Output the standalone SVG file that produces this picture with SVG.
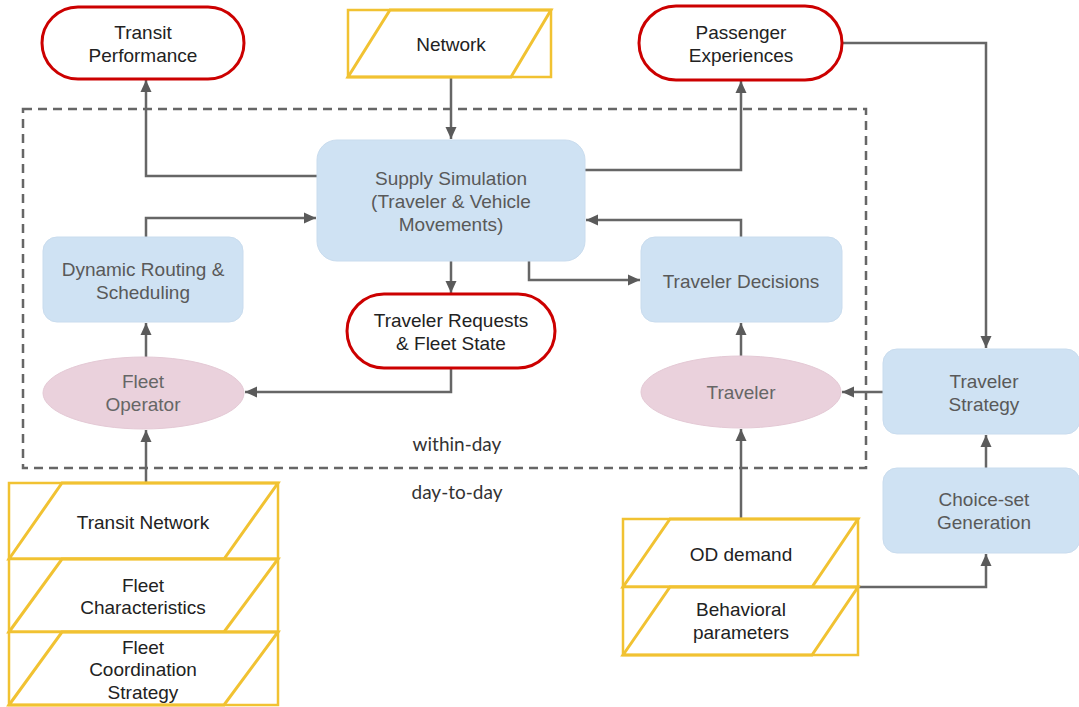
<svg xmlns="http://www.w3.org/2000/svg" width="1079" height="707" viewBox="0 0 1079 707">
<style>
.t{font-family:"Liberation Sans",Arial,sans-serif;text-anchor:middle;dominant-baseline:central}
.blue{fill:#cfe2f3;stroke:#c9dcee;stroke-width:1}
.bt{fill:#595959;font-size:19px}
.red{fill:#fff;stroke:#cc0000;stroke-width:3}
.rt{fill:#222;font-size:19px}
.pink{fill:#ead1dc;stroke:#e4c9d5;stroke-width:1}
.pt{fill:#666;font-size:19px}
.yo{fill:#fff;stroke:#f1c232;stroke-width:2.5}
.yi{fill:none;stroke:#f1c232;stroke-width:3}
.st{fill:#222;font-size:19px}
.c{fill:none;stroke:#666;stroke-width:2.5}
.lbl{font-family:Lato,"Liberation Sans",sans-serif;font-size:19px;fill:#333;text-anchor:middle;dominant-baseline:central}
</style>
<defs>
<marker id="ah" markerUnits="userSpaceOnUse" markerWidth="14" markerHeight="14" viewBox="0 0 14 14" refX="12" refY="7" orient="auto">
<path d="M0,1.5 L12,7 L0,12.5 Z" fill="#5a5a5a"/>
</marker>
</defs>
<rect width="1079" height="707" fill="#fff"/>

<rect id="day-boundary" x="23" y="109" width="843" height="359" fill="none" stroke="#666" stroke-width="2.5" stroke-dasharray="9 6"/>
<text class="lbl" x="457" y="443">within-day</text>
<text class="lbl" x="457" y="491">day-to-day</text>

<g id="connectors">
<path class="c" d="M451,78 V139" marker-end="url(#ah)"/>
<path class="c" d="M317,176 H146 V80" marker-end="url(#ah)"/>
<path class="c" d="M585,170 H741 V81" marker-end="url(#ah)"/>
<path class="c" d="M842,43 H986 V348" marker-end="url(#ah)"/>
<path class="c" d="M146,237 V218 H316" marker-end="url(#ah)"/>
<path class="c" d="M741,237 V220 H586" marker-end="url(#ah)"/>
<path class="c" d="M451,261 V293" marker-end="url(#ah)"/>
<path class="c" d="M529,261 V280 H640" marker-end="url(#ah)"/>
<path class="c" d="M451,368 V392 H245" marker-end="url(#ah)"/>
<path class="c" d="M146,357 V323" marker-end="url(#ah)"/>
<path class="c" d="M741,357 V323" marker-end="url(#ah)"/>
<path class="c" d="M883,392 H842" marker-end="url(#ah)"/>
<path class="c" d="M986,468 V435" marker-end="url(#ah)"/>
<path class="c" d="M146,483 V430" marker-end="url(#ah)"/>
<path class="c" d="M741,519 V429" marker-end="url(#ah)"/>
<path class="c" d="M858,587 H986 V554" marker-end="url(#ah)"/>
</g>

<g id="transit-performance">
<rect class="red" x="42" y="7" width="202" height="72" rx="36"/>
<text class="t rt" x="143" y="32">Transit</text>
<text class="t rt" x="143" y="55">Performance</text>
</g>

<g id="network">
<rect class="yo" x="348" y="10" width="203" height="67"/>
<path class="yi" d="M348,77 L390,10 H551 L511,77 Z"/>
<text class="t" x="451" y="44" style="font-size:19px;fill:#222">Network</text>
</g>

<g id="passenger-experiences">
<rect class="red" x="639" y="6" width="203" height="74" rx="37"/>
<text class="t rt" x="741" y="32">Passenger</text>
<text class="t rt" x="741" y="55">Experiences</text>
</g>

<g id="supply-simulation">
<rect class="blue" x="317" y="140" width="268" height="121" rx="20"/>
<text class="t bt" x="451" y="178">Supply Simulation</text>
<text class="t bt" x="451" y="201">(Traveler &amp; Vehicle</text>
<text class="t bt" x="451" y="224">Movements)</text>
</g>

<g id="dynamic-routing">
<rect class="blue" x="43" y="237" width="200" height="85" rx="14"/>
<text class="t bt" x="143" y="269">Dynamic Routing &amp;</text>
<text class="t bt" x="143" y="292">Scheduling</text>
</g>

<g id="traveler-requests">
<rect class="red" x="347" y="294" width="208" height="74" rx="37"/>
<text class="t rt" x="451" y="320">Traveler Requests</text>
<text class="t rt" x="451" y="343">&amp; Fleet State</text>
</g>

<g id="traveler-decisions">
<rect class="blue" x="641" y="237" width="201" height="85" rx="14"/>
<text class="t bt" x="741" y="281">Traveler Decisions</text>
</g>

<g id="fleet-operator">
<ellipse class="pink" cx="143.5" cy="393" rx="100.5" ry="36"/>
<text class="t pt" x="143" y="381">Fleet</text>
<text class="t pt" x="143" y="404">Operator</text>
</g>

<g id="traveler">
<ellipse class="pink" cx="741" cy="392" rx="100" ry="36"/>
<text class="t pt" x="741" y="392">Traveler</text>
</g>

<g id="traveler-strategy">
<rect class="blue" x="883" y="349" width="197" height="85" rx="14"/>
<text class="t bt" x="984" y="381">Traveler</text>
<text class="t bt" x="984" y="404">Strategy</text>
</g>

<g id="choice-set-generation">
<rect class="blue" x="883" y="468" width="197" height="85" rx="14"/>
<text class="t bt" x="984" y="499">Choice-set</text>
<text class="t bt" x="984" y="522">Generation</text>
</g>

<g id="transit-network">
<rect class="yo" x="9" y="483" width="269" height="76"/>
<path class="yi" d="M9,559 L62,483 H278 L224,559 Z"/>
<text class="t st" x="143" y="522">Transit Network</text>
</g>
<g id="fleet-characteristics">
<rect class="yo" x="9" y="559" width="269" height="73"/>
<path class="yi" d="M9,632 L62,559 H278 L224,632 Z"/>
<text class="t st" x="143" y="585">Fleet</text>
<text class="t st" x="143" y="607">Characteristics</text>
</g>
<g id="fleet-coordination">
<rect class="yo" x="9" y="632" width="269" height="73"/>
<path class="yi" d="M9,705 L62,632 H278 L224,705 Z"/>
<text class="t st" x="143" y="647">Fleet</text>
<text class="t st" x="143" y="669">Coordination</text>
<text class="t st" x="143" y="692">Strategy</text>
</g>

<g id="od-demand">
<rect class="yo" x="623" y="519" width="235" height="68"/>
<path class="yi" d="M623,587 L670,519 H858 L812,587 Z"/>
<text class="t st" x="741" y="554">OD demand</text>
</g>
<g id="behavioral-parameters">
<rect class="yo" x="623" y="587" width="235" height="68"/>
<path class="yi" d="M623,655 L670,587 H858 L812,655 Z"/>
<text class="t st" x="741" y="609">Behavioral</text>
<text class="t st" x="741" y="632">parameters</text>
</g>
</svg>
